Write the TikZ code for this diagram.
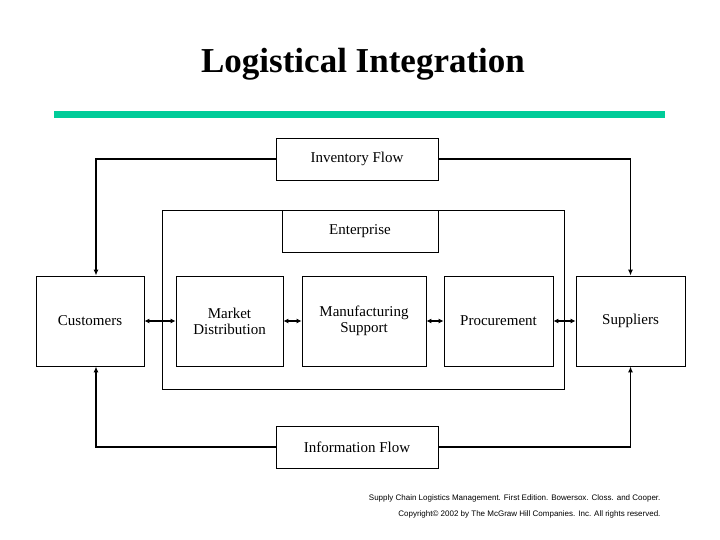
\documentclass[tikz,border=0pt]{standalone}
\usepackage{fontspec}
\setmainfont{Liberation Serif}
\newfontfamily\footfont{Liberation Sans}
\usetikzlibrary{positioning,arrows.meta}
\definecolor{barteal}{RGB}{0,204,153}

\begin{document}
\begin{tikzpicture}[x=1pt,y=-1pt,
        block/.style={draw,thick,inner sep=0pt,align=center,font=\fontsize{15}{16}\selectfont},
        flow/.style={block,minimum width=162pt,minimum height=42pt},
        party/.style={block,minimum width=108pt,minimum height=90pt},
        link/.style={draw,{Latex[length=5pt,width=5pt]}-{Latex[length=5pt,width=5pt]},very thick},
        feed/.style={draw,-{Latex[length=6pt,width=5pt]},very thick},
      ]
      \useasboundingbox (0,0) rectangle (720,540);
      \node[font=\fontsize{35}{37}\selectfont\bfseries] at (363,64) (title) {Logistical Integration};
      \fill[barteal] (54,111) rectangle (665,118);
%
      \draw[thick] (162,210) rectangle (564,389);
      \node[flow,minimum width=156pt] at (360,231) (Enterprise) {Enterprise};
      \node[flow] at (357,159) (Inventory) {Inventory Flow};
      \node[flow] at (357,447) (Information) {Information Flow};
%
      \node[party] at (90,321) (Customers) {Customers};
      \node[party,minimum width=107pt] at (229.5,321) (Market) {Market\\Distribution};
      \node[party,minimum width=124pt] at (364,321) (Manufacturing) {Manufacturing\\Support};
      \node[party,minimum width=109pt] at (498.5,321) (Procurement) {Procurement};
      \node[party,minimum width=109pt] at (630.5,321) (Suppliers) {Suppliers};
%
      \path[link] (Customers) -- (Market);
      \path[link] (Market) -- (Manufacturing);
      \path[link] (Manufacturing) -- (Procurement);
      \path[link] (Procurement) -- (Suppliers);
%
      \path[feed] (Inventory.west) -| (Customers.north -| 96,0);
      \path[feed] (Inventory.east) -| (Suppliers.north);
      \path[feed] (Information.west) -| (Customers.south -| 96,0);
      \path[feed] (Information.east) -| (Suppliers.south);
%
      \node[font=\footfont\fontsize{8}{9}\selectfont,anchor=east] at (664,498) (source) {Supply Chain Logistics Management. First Edition. Bowersox. Closs. and Cooper.};
      \node[font=\footfont\fontsize{8}{9}\selectfont,anchor=east] at (664,514) (rights) {Copyright\textcopyright{} 2002 by The McGraw Hill Companies. Inc. All rights reserved.};
    \end{tikzpicture}
\end{document}
